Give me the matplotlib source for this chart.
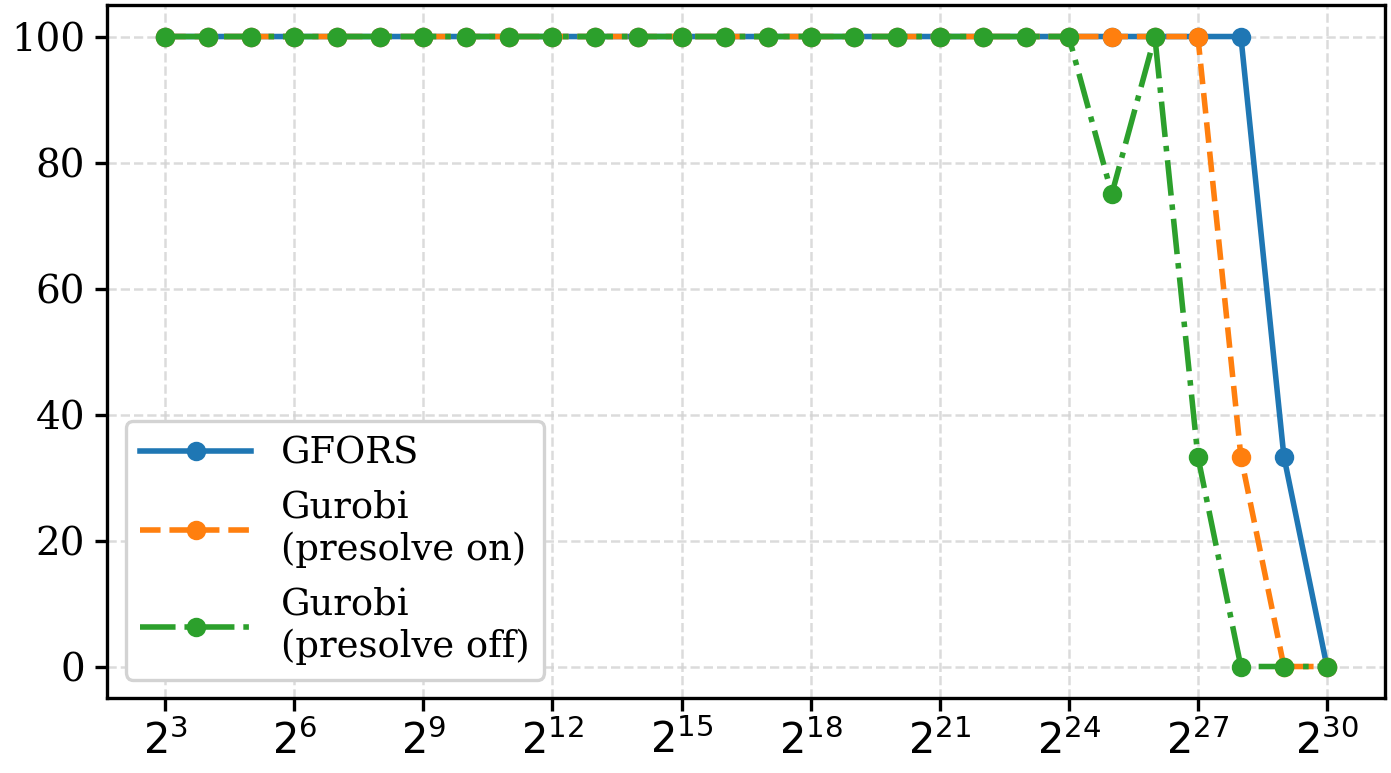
import numpy as np
import matplotlib
matplotlib.use("Agg")
import matplotlib.pyplot as plt
from matplotlib.ticker import NullLocator

plt.rcParams['font.family'] = ['DejaVu Serif']

# problem size exponents (n = 2^k)
exps = list(range(3, 31))
gfors = [100] * 26 + [33.33, 0]
gurobi_on = [100] * 25 + [33.33, 0, 0]
gurobi_off = [100] * 22 + [75, 100, 33.33, 0, 0, 0]

x = [2 ** k for k in exps]

fig, ax = plt.subplots(figsize=(6.955, 3.865), dpi=200)
fig.subplots_adjust(left=0.077, right=0.9957, top=0.9935, bottom=0.097)

ax.plot(x, gfors, '-', marker='o', markersize=6, lw=2, color='#1f77b4', label='GFORS')
ax.plot(x, gurobi_on, '--', marker='o', markersize=6, lw=2, color='#ff7f0e', label='Gurobi\n(presolve on)')
ax.plot(x, gurobi_off, '-.', marker='o', markersize=6, lw=2, color='#2ca02c', label='Gurobi\n(presolve off)')

ax.set_xscale('log', base=2)
ax.set_xticks([2 ** k for k in range(3, 31, 3)])
ax.xaxis.set_minor_locator(NullLocator())
ax.set_yticks([0, 20, 40, 60, 80, 100])

ax.grid(True, linestyle='--', color='lightgray', alpha=0.8, lw=0.9)
ax.set_axisbelow(True)

for s in ax.spines.values():
    s.set_linewidth(1.2)
ax.tick_params(axis='y', labelsize=14, length=4.5, width=1.2)
ax.tick_params(axis='x', labelsize=15, length=4.5, width=1.2)
for lbl in ax.get_xticklabels():
    lbl.set_family('DejaVu Sans')

leg = ax.legend(loc='lower left', fontsize=13.3, handlelength=3.0, framealpha=1)
leg.get_frame().set_edgecolor('lightgray')
leg.get_frame().set_linewidth(1.2)

plt.savefig("out.png", dpi=200)
